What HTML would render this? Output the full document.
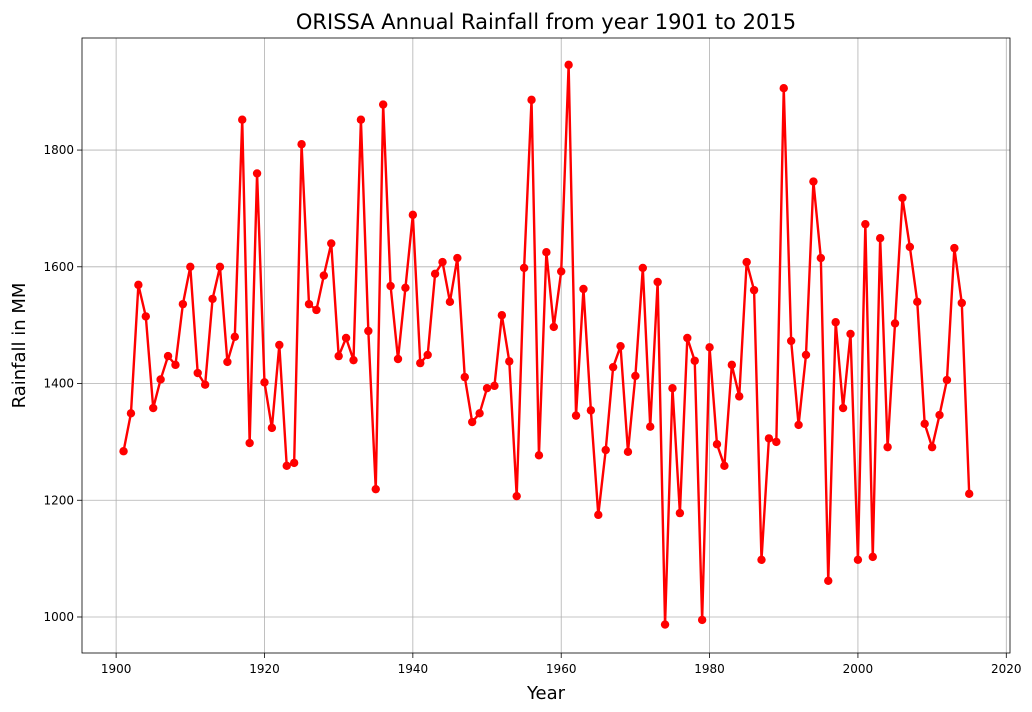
<!DOCTYPE html>
<html><head><meta charset="utf-8"><style>
html,body{margin:0;padding:0;background:#fff;}
svg{display:block;font-family:"DejaVu Sans","Liberation Sans",sans-serif;}
</style></head><body>
<svg id="chart" width="1032" height="712" xmlns="http://www.w3.org/2000/svg"></svg>
<script>
const startYear = 1901;
const rainfall = [1284,1349,1569,1515,1358,1407,1447,1432,1536,1600,1418,1398,1545,1600,1437,1480,1852,1298,1760,1402,1324,1466,1259,1264,1810,1536,1526,1585,1640,1447,1478,1440,1852,1490,1219,1878,1567,1442,1564,1689,1435,1449,1588,1608,1540,1615,1411,1334,1349,1392,1396,1517,1438,1207,1598,1886,1277,1625,1497,1592,1946,1345,1562,1354,1175,1286,1428,1464,1283,1413,1598,1326,1574,987,1392,1178,1478,1439,995,1462,1296,1259,1432,1378,1608,1560,1098,1306,1300,1906,1473,1329,1449,1746,1615,1062,1505,1358,1485,1098,1673,1103,1649,1291,1503,1718,1634,1540,1331,1291,1346,1406,1632,1538,1211];
const xTicks = [1900,1920,1940,1960,1980,2000,2020];
const yTicks = [1000,1200,1400,1600,1800];

const NS="http://www.w3.org/2000/svg";
const svg=document.getElementById('chart');
const L=82,R=1010,T=38,B=653;
const xMin=1895.4,xMax=2020.5,yMin=938.3,yMax=1992;
const xs=v=>L+(v-xMin)/(xMax-xMin)*(R-L);
const ys=v=>B-(v-yMin)/(yMax-yMin)*(B-T);
function mk(tag,attrs){const e=document.createElementNS(NS,tag);for(const k in attrs)e.setAttribute(k,attrs[k]);svg.appendChild(e);return e;}

xTicks.forEach(t=>{
  const x=xs(t);
  const g=mk('line',{x1:x,x2:x,y1:T,y2:B,stroke:'#b0b0b0','stroke-width':0.8});
  
  
  const tk=mk('line',{x1:x,x2:x,y1:B,y2:B+5,stroke:'#000','stroke-width':0.8});
  
  
  const tx=mk('text',{x:x,y:B+20,'text-anchor':'middle','font-size':12});
  tx.textContent=t;
  
  
});
yTicks.forEach(t=>{
  const y=ys(t);
  const g=mk('line',{x1:L,x2:R,y1:y,y2:y,stroke:'#b0b0b0','stroke-width':0.8});
  
  
  const tk=mk('line',{x1:L-5,x2:L,y1:y,y2:y,stroke:'#000','stroke-width':0.8});
  
  
  const tx=mk('text',{x:L-8,y:y+4,'text-anchor':'end','font-size':12});
  tx.textContent=t;
  
  
});

const pts=rainfall.map((v,i)=>xs(startYear+i).toFixed(2)+','+ys(v).toFixed(2)).join(' ');
const line=mk('polyline',{points:pts,fill:'none',stroke:'#ff0000','stroke-width':2.4,'stroke-linejoin':'round'});


rainfall.forEach((v,i)=>{
  const c=mk('circle',{cx:xs(startYear+i),cy:ys(v),r:4.2,fill:'#ff0000'});
  
  
});

const frame=mk('rect',{x:L,y:T,width:R-L,height:B-T,fill:'none',stroke:'#000','stroke-width':0.8});



const title=mk('text',{x:(L+R)/2,y:29,'text-anchor':'middle','font-size':21});
title.textContent='ORISSA Annual Rainfall from year 1901 to 2015';


const xl=mk('text',{x:(L+R)/2,y:699,'text-anchor':'middle','font-size':18});
xl.textContent='Year';


const yl=mk('text',{x:0,y:0,'text-anchor':'middle','font-size':18,transform:'translate(25,'+((T+B)/2)+') rotate(-90)'});
yl.textContent='Rainfall in MM';


</script>
</body></html>
